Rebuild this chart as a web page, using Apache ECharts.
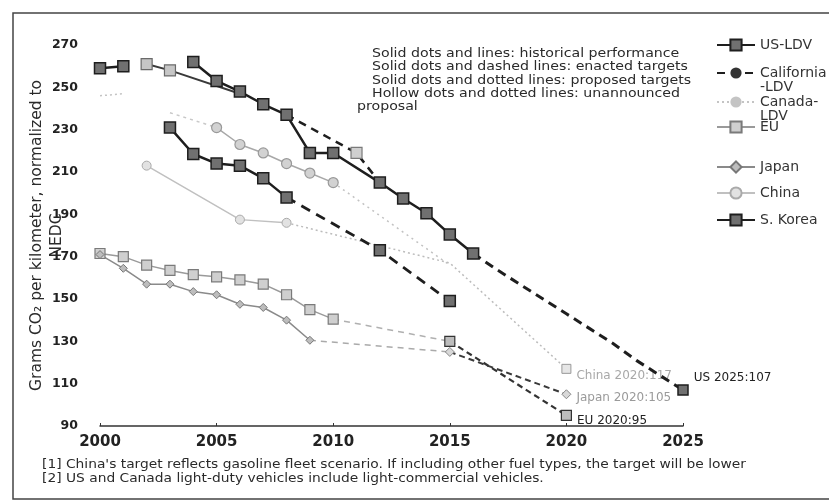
<!DOCTYPE html>
<html>
<head>
<meta charset="utf-8">
<title>Light-duty vehicle CO2 standards</title>
<script src="https://cdn.jsdelivr.net/npm/echarts@6/dist/echarts.min.js"></script>
<style>
  html, body { margin: 0; padding: 0; background: #fff; }
  #chart { width: 829px; height: 504px; }
</style>
</head>
<body>
<div id="chart"></div>
<script>
// Fleet CO2 values in grams per km (NEDC-normalised), stored as [year, value]
const usEarly = [[2000, 259], [2001, 260]];
const usHistory = [[2004, 262], [2005, 253], [2006, 248], [2007, 242], [2008, 237], [2009, 219], [2010, 219],
                   [2012, 205], [2013, 197.5], [2014, 190.5], [2015, 180.5], [2016, 171.5]];
const usProposed = [[2016, 171.5], [2017, 164], [2018, 157], [2019, 150], [2020, 143], [2021, 136],
                    [2022, 129], [2023, 121], [2024, 114], [2025, 107]];

const californiaTargets = [[2008, 237], [2011, 219], [2012, 205]];

const canadaEarly = [[2000, 246], [2001, 247]];
const canadaHistory = [[2002, 261], [2003, 258], [2006, 247]];
const canadaBridge = [[2003, 238], [2005, 231]];
const canadaTargets = [[2005, 231], [2006, 223], [2007, 219], [2008, 214], [2009, 209.5], [2010, 205]];
const canadaLater = [[2010, 205], [2015, 166]];

const euHistory = [[2000, 171.5], [2001, 170], [2002, 166], [2003, 163.5], [2004, 161.5], [2005, 160.5],
                   [2006, 159], [2007, 157], [2008, 152], [2009, 145], [2010, 140.5]];
const euTo2015 = [[2010, 140.5], [2015, 130]];
const euTo2020 = [[2015, 130], [2020, 95]];

const japanHistory = [[2000, 171], [2001, 164.5], [2002, 157], [2003, 157], [2004, 153.5], [2005, 152],
                      [2006, 147.5], [2007, 146], [2008, 140], [2009, 130.5]];
const japanTo2015 = [[2009, 130.5], [2015, 125]];
const japanTo2020 = [[2015, 125], [2020, 105]];

const chinaHistory = [[2002, 213], [2006, 187.5], [2008, 186]];
const chinaTargets = [[2008, 186], [2015, 167], [2020, 117]];

const koreaHistory = [[2003, 231], [2004, 218.5], [2005, 214], [2006, 213], [2007, 207], [2008, 198]];
const koreaTargets = [[2008, 198], [2012, 173], [2015, 149]];

const yearTicks = [2000, 2005, 2010, 2015, 2020, 2025];
const co2Range = [90, 270];

const legendNames = ['US-LDV', 'California-LDV', 'Canada-LDV', 'EU', 'Japan', 'China', 'S. Korea'];
// two-line legend labels; the leading blank line keeps the first line level with the icon
const legendText = { 'California-LDV': ' \nCalifornia\n-LDV', 'Canada-LDV': ' \nCanada-\nLDV' };

const notes = [
  "[1] China's target reflects gasoline fleet scenario. If including other fuel types, the target will be lower",
  "[2] US and Canada light-duty vehicles include light-commercial vehicles."
];
const keyLines = [
  'Solid dots and lines: historical performance',
  'Solid dots and dashed lines: enacted targets',
  'Solid dots and dotted lines: proposed targets',
  'Hollow dots and dotted lines: unannounced'
];

// ---- styles ----
const DARK = '#1e1e1e';
const darkSquare = { color: '#707070', borderColor: '#1e1e1e', borderWidth: 1.5 };
const lightSquare = { color: '#cfcfcf', borderColor: '#7a7a7a', borderWidth: 1.2 };

function endLabel(data, prefix, color, offset) {
  const last = data[data.length - 1];
  return data.map((p, i) => i === data.length - 1 ? {
    value: p,
    label: {
      show: true, position: 'right', distance: 5, offset: offset,
      formatter: prefix + ' ' + last[0] + ':' + last[1],
      color: color, fontSize: 12, fontFamily: 'DejaVu Sans'
    }
  } : p);
}

function hideSymbols(data, keep) {
  return data.map((p, i) => keep.indexOf(i) >= 0 ? p : { value: p, symbol: 'none' });
}

const series = [
  // US
  { name: 'US-LDV', type: 'line', data: usHistory, z: 10,
    lineStyle: { color: DARK, width: 2.5 }, symbol: 'rect', symbolSize: 11, itemStyle: darkSquare },
  { name: 'US-LDV', type: 'line', data: usEarly, z: 10,
    lineStyle: { color: DARK, width: 2.5 }, symbol: 'rect', symbolSize: 11, itemStyle: darkSquare },
  { name: 'US-LDV', type: 'line', z: 9,
    data: endLabel(hideSymbols(usProposed, [usProposed.length - 1]), 'US', '#222', [0, -12]),
    lineStyle: { color: DARK, width: 3, type: [9, 6] }, symbol: 'rect', symbolSize: 10, itemStyle: darkSquare },
  // California
  { name: 'California-LDV', type: 'line', z: 8,
    data: californiaTargets.map((p, i) => i === 1 ? { value: p, symbol: 'rect', symbolSize: 11, itemStyle: lightSquare } : { value: p, symbol: 'none' }),
    lineStyle: { color: DARK, width: 2.5, type: [8, 6] }, symbol: 'circle', symbolSize: 8,
    itemStyle: { color: '#333', borderColor: '#111' } },
  // Canada
  { name: 'Canada-LDV', type: 'line', data: canadaEarly, z: 3, symbol: 'none',
    lineStyle: { color: '#c4c4c4', width: 1.5, type: [2, 3] }, itemStyle: { color: '#c4c4c4' } },
  { name: 'Canada-LDV', type: 'line', z: 6,
    data: hideSymbols(canadaHistory, [0, 1]),
    lineStyle: { color: '#3a3a3a', width: 2 }, symbol: 'rect', symbolSize: 11,
    itemStyle: { color: '#c6c6c6', borderColor: '#6a6a6a', borderWidth: 1.2 } },
  { name: 'Canada-LDV', type: 'line', data: canadaBridge, z: 3, symbol: 'none',
    lineStyle: { color: '#c8c8c8', width: 1.5, type: [3, 4] } },
  { name: 'Canada-LDV', type: 'line', data: canadaTargets, z: 4,
    lineStyle: { color: '#a8a8a8', width: 1.5 }, symbol: 'circle', symbolSize: 10,
    itemStyle: { color: '#d2d2d2', borderColor: '#999', borderWidth: 1.2 } },
  { name: 'Canada-LDV', type: 'line', data: canadaLater, z: 3, symbol: 'none',
    lineStyle: { color: '#c2c2c2', width: 1.5, type: [2, 4] } },
  // EU
  { name: 'EU', type: 'line', data: euHistory, z: 5,
    lineStyle: { color: '#9a9a9a', width: 1.5 }, symbol: 'rect', symbolSize: 10, itemStyle: lightSquare },
  { name: 'EU', type: 'line', data: euTo2015, z: 4, symbol: 'none',
    lineStyle: { color: '#b0b0b0', width: 1.5, type: [6, 5] } },
  { name: 'EU', type: 'line', z: 7,
    data: endLabel(hideSymbols(euTo2020, [0, 1]), 'EU', '#222', [0, 5]),
    lineStyle: { color: '#333', width: 2.2, type: [6, 4] }, symbol: 'rect', symbolSize: 10,
    itemStyle: { color: '#bdbdbd', borderColor: '#333', borderWidth: 1.2 } },
  // Japan
  { name: 'Japan', type: 'line', data: japanHistory, z: 5,
    lineStyle: { color: '#8a8a8a', width: 1.5 }, symbol: 'diamond', symbolSize: 8,
    itemStyle: { color: '#bdbdbd', borderColor: '#777', borderWidth: 1 } },
  { name: 'Japan', type: 'line', data: japanTo2015, z: 4, symbol: 'none',
    lineStyle: { color: '#aaa', width: 1.5, type: [6, 5] } },
  { name: 'Japan', type: 'line', z: 7,
    data: endLabel(hideSymbols(japanTo2020, [0, 1]), 'Japan', '#9a9a9a', [0, 4]),
    lineStyle: { color: '#3a3a3a', width: 2, type: [6, 4] }, symbol: 'diamond', symbolSize: 9,
    itemStyle: { color: '#d8d8d8', borderColor: '#888', borderWidth: 1 } },
  // China
  { name: 'China', type: 'line', data: chinaHistory, z: 4,
    lineStyle: { color: '#c0c0c0', width: 1.5 }, symbol: 'circle', symbolSize: 9,
    itemStyle: { color: '#e2e2e2', borderColor: '#aaa', borderWidth: 1 } },
  { name: 'China', type: 'line', z: 4,
    data: endLabel(hideSymbols(chinaTargets, [2]), 'China', '#a8a8a8', [0, 7]),
    lineStyle: { color: '#bcbcbc', width: 1.5, type: [2, 3] }, symbol: 'rect', symbolSize: 9,
    itemStyle: { color: '#e6e6e6', borderColor: '#999', borderWidth: 1 } },
  // S. Korea
  { name: 'S. Korea', type: 'line', data: koreaHistory, z: 10,
    lineStyle: { color: DARK, width: 2.5 }, symbol: 'rect', symbolSize: 11, itemStyle: darkSquare },
  { name: 'S. Korea', type: 'line', z: 9,
    data: hideSymbols(koreaTargets, [1, 2]),
    lineStyle: { color: DARK, width: 2.8, type: [10, 7] }, symbol: 'rect', symbolSize: 11, itemStyle: darkSquare }
];

// one legend block per entry so each can sit at its own height
const legendCenters = [45, 73, 102, 127, 167, 193, 220];
const legends = legendNames.map((name, i) => {
  const twoLines = !!legendText[name];
  return {
    data: [name],
    orient: 'vertical',
    left: 716,
    top: legendCenters[i] - (twoLines ? 21 : 7),
    itemWidth: 38, itemHeight: 14, itemGap: 0, padding: 0,
    selectedMode: false,
    formatter: n => legendText[n] || n,
    textStyle: { fontSize: 14, color: '#333', fontFamily: 'DejaVu Sans', lineHeight: 14 }
  };
});

const chart = echarts.init(document.getElementById('chart'), null, { renderer: 'canvas' });
chart.setOption({
  backgroundColor: '#fff',
  animation: false,
  grid: { left: 100, right: 146, top: 45, bottom: 78 },
  legend: legends,
  xAxis: {
    type: 'value', min: yearTicks[0], max: yearTicks[yearTicks.length - 1], interval: 5,
    axisLine: { lineStyle: { color: '#333', width: 1.5 } },
    axisTick: { show: true, length: 3, inside: true, lineStyle: { color: '#333' } },
    splitLine: { show: false },
    axisLabel: { color: '#222', fontSize: 15, fontWeight: 'bold', fontFamily: 'DejaVu Sans', margin: 9,
                 formatter: v => String(v) }
  },
  yAxis: {
    type: 'value', min: co2Range[0], max: co2Range[1], interval: 20,
    axisLine: { show: false }, axisTick: { show: false }, splitLine: { show: false },
    axisLabel: { color: '#222', fontSize: 12.5, fontWeight: 'bold', fontFamily: 'DejaVu Sans', margin: 22 },
    name: 'Grams CO\u2082 per kilometer, normalized to\nNEDC',
    nameLocation: 'middle', nameRotate: 90, nameGap: 33, nameMoveOverlap: false,
    nameTextStyle: { color: '#2a2a2a', fontSize: 15.5, fontFamily: 'DejaVu Sans', lineHeight: 20 }
  },
  series: series,
  graphic: [
    { type: 'rect', silent: true, z: 100,
      shape: { x: 13, y: 13, width: 830, height: 486 },
      style: { fill: 'none', stroke: '#444', lineWidth: 1.5 } },
    { type: 'text', x: 372, y: 47, scaleX: 1.18, silent: true,
      style: { text: keyLines.join('\n'), fontSize: 12, lineHeight: 13.5, fontFamily: 'DejaVu Sans', fill: '#2a2a2a' } },
    { type: 'text', x: 357, y: 101, scaleX: 1.18, silent: true,
      style: { text: 'proposal', fontSize: 12, fontFamily: 'DejaVu Sans', fill: '#2a2a2a' } },
    { type: 'text', x: 42, y: 458, scaleX: 1.2, silent: true,
      style: { text: notes.join('\n'), fontSize: 11.5, lineHeight: 14, fontFamily: 'DejaVu Sans', fill: '#2a2a2a' } }
  ]
});
</script>
</body>
</html>
